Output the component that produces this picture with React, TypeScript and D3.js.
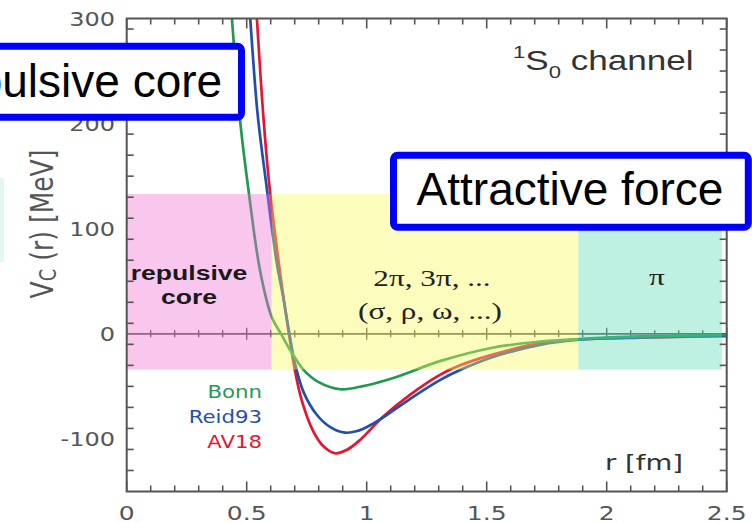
import React from "react";
import * as d3 from "d3";

// ---- data: central potential V_C(r) in the 1S0 channel ----
const bonnR = [0.43, 0.4375, 0.472, 0.509, 0.555, 0.604, 0.643, 0.68, 0.736, 0.8, 0.889, 0.98, 1.111, 1.305, 1.514, 1.722, 1.882, 2.14, 2.5];
const bonnV = [320, 302, 204, 134, 61, 16, 0, -15, -34, -46, -52.7, -50, -42, -26, -13.7, -7.3, -5, -2.5, -1];

const reidR = [0.505, 0.514, 0.545, 0.58, 0.625, 0.652, 0.678, 0.701, 0.736, 0.792, 0.85, 0.91, 0.96, 1.014, 1.069, 1.18, 1.305, 1.389, 1.514, 1.722, 1.882, 2.14, 2.5];
const reidV = [330, 302, 210, 145, 68, 35, 0, -28, -55, -77, -89, -94, -92.5, -87, -79.5, -62, -44, -34.5, -23, -10.5, -5.5, -3.5, -2];

const av18R = [0.535, 0.542, 0.57, 0.595, 0.6375, 0.676, 0.701, 0.729, 0.778, 0.82, 0.868, 0.92, 0.972, 1.069, 1.18, 1.305, 1.389, 1.514, 1.722, 1.882, 2.14, 2.5];
const av18V = [330, 302, 205, 140, 61, 0, -35, -63, -93, -107, -113.6, -110, -101, -78.7, -58, -39, -30, -20.5, -8.9, -5.5, -3.6, -2];

const seriesNames = ["Bonn", "Reid93", "AV18"];
const seriesColors = ["#1f9a4f", "#1f4fae", "#e8142f"];

// meson-exchange ranges (fm) and their shaded band (MeV)
const rangeStart = [0, 0.604, 1.882];
const rangeEnd = [0.604, 1.882, 2.48];
const rangeFill = ["#f171d5", "#f8f85a", "#5fdcb9"];
const bandTop = 133;
const bandBottom = -34;

const xTickValues = [0, 0.5, 1, 1.5, 2, 2.5];
const xTickLabels = ["0", "0.5", "1", "1.5", "2", "2.5"];
const yTickValues = [-100, 0, 100, 200, 300];
const yTickLabels = ["-100", "0", "100", "200", "300"];

const W = 752;
const H = 523;

const x = d3.scaleLinear().domain([0, 2.5]).range([126.7, 726.7]);
const y = d3.scaleLinear().domain([-150, 300]).range([491.5, 18.5]);

const zip = (a: number[], b: number[]) => a.map((v, i) => [v, b[i]] as [number, number]);

const line = d3
  .line<[number, number]>()
  .x((d) => x(d[0]))
  .y((d) => y(d[1]))
  .curve(d3.curveCatmullRom.alpha(0.5));

const AXIS = "#555";
const SANS = "'DejaVu Sans', Verdana, sans-serif";
const ARIAL = "'Liberation Sans', Arial, sans-serif";
const SERIF = "'Liberation Serif', 'Times New Roman', serif";

// text widened horizontally by factor k
function SText(props: any) {
  const { x: tx, y: ty, k = 1.25, children, ...rest } = props;
  return (
    <text transform={`translate(${tx},${ty}) scale(${k},1)`} {...rest}>
      {children}
    </text>
  );
}

export default function App() {
  const [x0, x1] = x.range();
  const [yb, yt] = y.range();
  const minorX = d3.range(0, 26).map((i) => i / 10);
  const minorY = d3.range(-150, 301, 20).filter((v) => v > -150 && v < 300);
  const curves = [zip(bonnR, bonnV), zip(reidR, reidV), zip(av18R, av18V)];
  const drawOrder = [2, 1, 0];

  return (
    <svg
      width={W}
      height={H}
      viewBox={`0 0 ${W} ${H}`}
      style={{ position: "absolute", left: 0, top: 0, background: "#fff" }}
    >
      <defs>
        <clipPath id="plot">
          <rect x={x0} y={yt} width={x1 - x0} height={yb - yt} />
        </clipPath>
      </defs>
      <rect x={0} y={0} width={W} height={H} fill="#fff" />
      <rect x={0} y={178} width={4} height={84} fill="#e3f7f1" />

      {/* zero line with its ticks */}
      <line x1={x0} x2={x1} y1={y(0)} y2={y(0)} stroke={AXIS} strokeWidth={1.6} />
      {minorX.map((v, i) => {
        const h = i % 5 === 0 ? 6 : 3.5;
        return <line key={"z" + i} x1={x(v)} x2={x(v)} y1={y(0) - h} y2={y(0) + h} stroke={AXIS} strokeWidth={1.4} />;
      })}

      {/* potential curves */}
      <g clipPath="url(#plot)" fill="none">
        {drawOrder.map((s) => (
          <path key={seriesNames[s]} d={line(curves[s]) || ""} stroke={seriesColors[s]} strokeWidth={2.7} />
        ))}
      </g>

      {/* shaded ranges */}
      {rangeStart.map((r, i) => (
        <rect
          key={"band" + i}
          x={x(r)}
          y={y(bandTop)}
          width={x(rangeEnd[i]) - x(r)}
          height={y(bandBottom) - y(bandTop)}
          fill={rangeFill[i]}
          fillOpacity={0.4}
        />
      ))}

      {/* frame */}
      <rect x={x0} y={yt} width={x1 - x0} height={yb - yt} fill="none" stroke={AXIS} strokeWidth={2} />
      {minorX.map((v, i) => {
        const h = i % 5 === 0 ? 10 : 6;
        return (
          <g key={"xt" + i} stroke={AXIS} strokeWidth={1.6}>
            <line x1={x(v)} x2={x(v)} y1={yb} y2={yb - h} />
            <line x1={x(v)} x2={x(v)} y1={yt} y2={yt + h} />
          </g>
        );
      })}
      {minorY.map((v, i) => {
        const h = v % 100 === 0 ? 11 : 7;
        return (
          <g key={"yt" + i} stroke={AXIS} strokeWidth={1.6}>
            <line x1={x0} x2={x0 + h} y1={y(v)} y2={y(v)} />
            <line x1={x1} x2={x1 - h} y1={y(v)} y2={y(v)} />
          </g>
        );
      })}

      {/* tick labels */}
      <g fill={AXIS} fontFamily={SANS} fontSize={20}>
        {xTickValues.map((v, i) => (
          <SText key={"xl" + i} x={x(v)} y={520} k={1.25} textAnchor="middle">
            {xTickLabels[i]}
          </SText>
        ))}
        {yTickValues.map((v, i) => (
          <SText key={"yl" + i} x={115} y={y(v) + 7.3} k={1.2} textAnchor="end">
            {yTickLabels[i]}
          </SText>
        ))}
      </g>

      {/* axis titles */}
      <text
        transform={`translate(53,224) scale(1.3,1) rotate(-90)`}
        textAnchor="middle"
        fontFamily={SANS}
        fontSize={25}
        fill={AXIS}
      >
        V<tspan fontSize={18} dy={2}>C</tspan>
        <tspan dy={-2}> (r) [MeV]</tspan>
      </text>
      <SText x={683} y={470} k={1.25} textAnchor="end" fontFamily={SANS} fontSize={22} fill="#333">
        r [fm]
      </SText>

      <SText x={513} y={70} k={1.3} fontFamily={ARIAL} fontSize={27} fill="#333">
        <tspan fontSize={17} dy={-12}>1</tspan>
        <tspan dy={12}>S</tspan>
        <tspan fontSize={17} dy={8}>0</tspan>
        <tspan dy={-8}> channel</tspan>
      </SText>

      {/* range labels */}
      <g fontFamily={ARIAL} fontWeight="bold" fontSize={20} fill="#1a1a1a">
        <SText x={189} y={280} k={1.33} textAnchor="middle">repulsive</SText>
        <SText x={189} y={304} k={1.33} textAnchor="middle">core</SText>
      </g>
      <g fontFamily={SERIF} fontSize={24} fill="#222">
        <SText x={432} y={286} k={1.3} textAnchor="middle">2π, 3π, ...</SText>
        <SText x={430} y={319} k={1.3} textAnchor="middle">(σ, ρ, ω, ...)</SText>
        <SText x={657} y={285} k={1.3} textAnchor="middle">π</SText>
      </g>

      {/* legend */}
      <g fontFamily={SANS} fontSize={17}>
        {seriesNames.map((n, i) => (
          <SText key={n} x={262} y={398 + i * 25} k={1.25} textAnchor="end" fill={seriesColors[i]}>
            {n}
          </SText>
        ))}
      </g>

      {/* callout boxes */}
      <g fontFamily={ARIAL} fontSize={46} fill="#000">
        <rect x={-102.5} y={46.2} width={344} height={71} rx={4} fill="#fff" stroke="#0000ff" strokeWidth={7} />
        <text x={70} y={97} textAnchor="middle">Repulsive core</text>
        <rect x={393.5} y={155.2} width={354.8} height={72} rx={4} fill="#fff" stroke="#0000ff" strokeWidth={7} />
        <text x={570} y={205} textAnchor="middle">Attractive force</text>
      </g>
    </svg>
  );
}
